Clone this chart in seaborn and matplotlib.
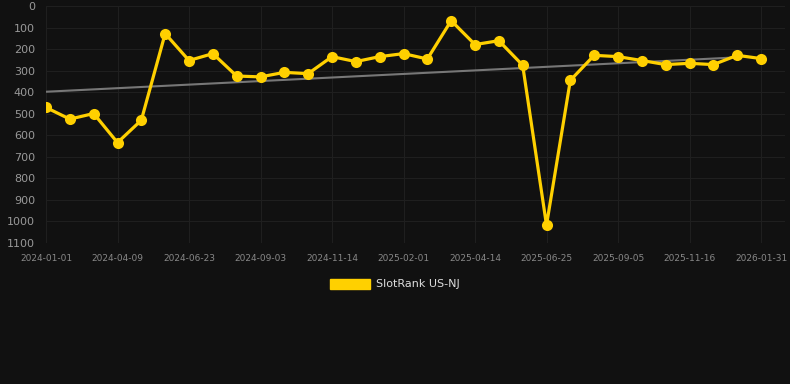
import numpy as np
import pandas as pd
import matplotlib
matplotlib.use("Agg")
import matplotlib.pyplot as plt
import seaborn as sns
from matplotlib.patches import Patch

dates = [
    "2024-01-01", "2024-02-03", "2024-03-07", "2024-04-09", "2024-05-04", "2024-05-29",
    "2024-06-23", "2024-07-17", "2024-08-10", "2024-09-03", "2024-09-27", "2024-10-21",
    "2024-11-14", "2024-12-10", "2025-01-06", "2025-02-01", "2025-02-25", "2025-03-21",
    "2025-04-14", "2025-05-08", "2025-06-01", "2025-06-25", "2025-07-19", "2025-08-12",
    "2025-09-05", "2025-09-29", "2025-10-23", "2025-11-16", "2025-12-11", "2026-01-05",
    "2026-01-31",
]
ranks = [
    471, 525, 499, 634, 530, 128, 253, 221, 325, 329, 308, 314, 235, 258, 235, 221,
    246, 68, 179, 161, 275, 1017, 345, 229, 235, 253, 272, 266, 272, 229, 244,
]
series_name = "SlotRank US-NJ"
y_ticks = list(range(0, 1101, 100))

df = pd.DataFrame({"date": dates, "rank": ranks})
df["idx"] = np.arange(len(df))

# linear trend over the point index
coef = np.polyfit(df["idx"], df["rank"], 1)
df["trend"] = np.polyval(coef, df["idx"])

bg = "#111111"
gold = "#FFD000"

sns.set_theme(style="dark")
plt.rcParams["font.family"] = ["DejaVu Sans"]

fig = plt.figure(figsize=(7.9, 3.84), dpi=100, facecolor=bg)
ax = fig.add_axes([46 / 790, 1 - 243 / 384, (785 - 46) / 790, (243 - 6) / 384])
ax.set_facecolor(bg)

sns.lineplot(data=df.iloc[:-1], x="idx", y="trend", ax=ax, color="#777777", linewidth=1.5, zorder=2)
sns.lineplot(data=df, x="idx", y="rank", ax=ax, color=gold, linewidth=2.3,
             marker="o", markersize=8, markeredgewidth=0, zorder=3)

ax.set_ylim(1100, 0)
ax.set_yticks(y_ticks)
ax.set_yticklabels([str(v) for v in y_ticks])
ax.set_xlim(0, 30 * (785 - 46) / (761 - 46))
ax.set_xticks(df["idx"][::3])
ax.set_xticklabels(df["date"][::3])

ax.grid(True, color="#1f1f1f", linewidth=0.8)
ax.set_axisbelow(True)
for s in ax.spines.values():
    s.set_visible(False)
ax.tick_params(axis="y", length=0, pad=8, labelsize=8, labelcolor="#999999")
ax.tick_params(axis="x", length=0, pad=8, labelsize=6.5, labelcolor="#888888")
ax.set_xlabel("")
ax.set_ylabel("")

fig.legend(handles=[Patch(facecolor=gold, edgecolor=gold)], labels=[series_name],
           loc="center", bbox_to_anchor=(0.5, 1 - 284 / 384), frameon=False,
           handlelength=3.6, handleheight=1.0, handletextpad=0.5,
           fontsize=8, labelcolor="#dddddd")

fig.savefig("out.png", dpi=100, facecolor=bg)
